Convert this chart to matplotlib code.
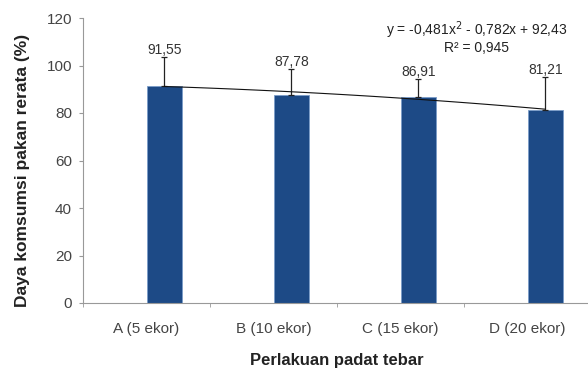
import numpy as np
import matplotlib
matplotlib.use("Agg")
import matplotlib.pyplot as plt

plt.rcParams['font.family'] = ['Liberation Sans', 'DejaVu Sans']

categories = ["A (5 ekor)", "B (10 ekor)", "C (15 ekor)", "D (20 ekor)"]
values = [91.55, 87.78, 86.91, 81.21]
value_labels = ["91,55", "87,78", "86,91", "81,21"]
errors = [12.0, 10.7, 7.4, 14.0]
poly_coef = [-0.481, -0.782, 92.43]
equation = "y = -0,481x$^{2}$ - 0,782x + 92,43"
r2_text = "R² = 0,945"

fig = plt.figure(figsize=(5.88, 3.69), dpi=100)
ax = fig.add_axes([83/588, 66/369, 508/588, 285/369])

x = np.arange(len(categories))
bar_w = 0.28
bar_c = x + bar_w / 2  # bars sit just right of each category centre
ax.bar(x, values, width=bar_w, align="edge", color="#1d4a86", edgecolor="#7b9cc8",
       linewidth=0.6, zorder=2)
ax.errorbar(bar_c, values, yerr=[np.zeros(len(errors)), errors], fmt="none",
            ecolor="#222222", elinewidth=0.9, capsize=2.5, capthick=0.9, zorder=3)

# polynomial trend line over the treatments (x = 1..4)
xs = np.linspace(1, 4, 50)
ax.plot(xs - 1 + bar_w / 2, np.polyval(poly_coef, xs), color="#111111", linewidth=0.8, zorder=4)

for xc, v, e, lab in zip(bar_c, values, errors, value_labels):
    ax.text(xc, v + e + 3.0, lab, ha="center", va="center", fontsize=10, color="#333333")

ax.text(2.6, 115, equation, ha="center", va="center", fontsize=10, color="#222222")
ax.text(2.6, 107.5, r2_text, ha="center", va="center", fontsize=10, color="#222222")

ax.set_xlim(-0.5, 3.5)
ax.set_ylim(0, 120)
ax.set_yticks(range(0, 121, 20))
ax.set_xticks(x)
ax.set_xticklabels(categories)
ax.set_xticks(np.arange(-0.5, 3.6, 1), minor=True)
ax.tick_params(axis="x", which="major", length=0, pad=14, labelsize=11, labelcolor="#444444")
ax.tick_params(axis="x", which="minor", length=3, color="#999999")
ax.tick_params(axis="y", length=3, color="#999999", labelsize=11, labelcolor="#444444", pad=5)

for s in ["top", "right"]:
    ax.spines[s].set_visible(False)
for s in ["left", "bottom"]:
    ax.spines[s].set_color("#999999")
    ax.spines[s].set_linewidth(0.8)

ax.set_ylabel("Daya komsumsi pakan rerata (%)", fontsize=12.5, fontweight="bold", color="#222222")
ax.yaxis.set_label_coords(-53/508, (303 - 170) / 285)
ax.set_xlabel("Perlakuan padat tebar", fontsize=12, fontweight="bold", color="#222222", labelpad=12)

fig.savefig("out.png", dpi=100)
